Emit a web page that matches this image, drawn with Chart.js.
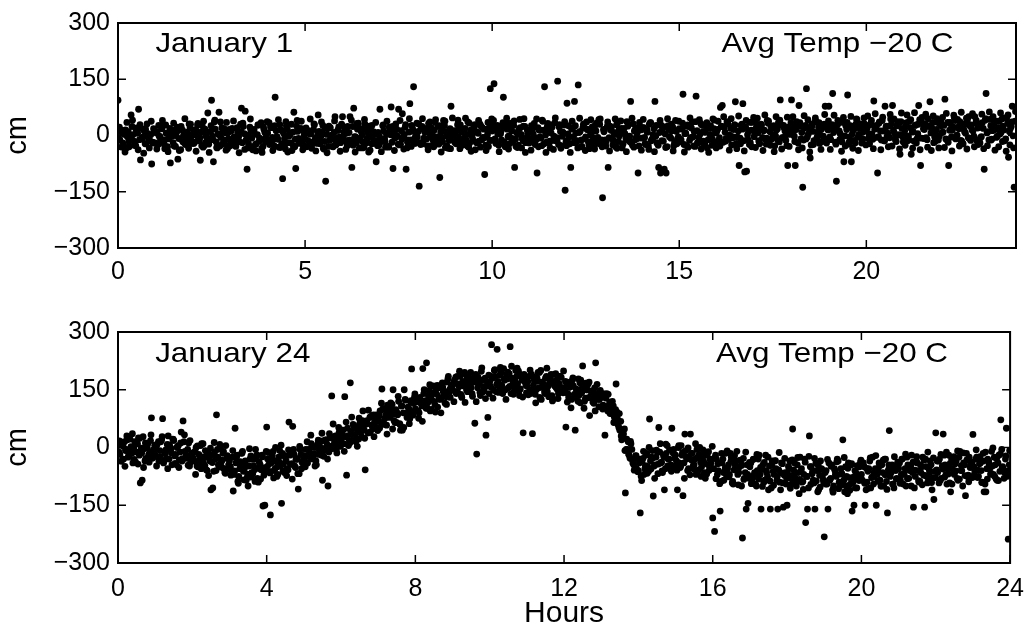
<!DOCTYPE html>
<html>
<head>
<meta charset="utf-8">
<script src="https://cdn.jsdelivr.net/npm/chart.js@4.4.1/dist/chart.umd.min.js"></script>
<style>
  html, body { margin: 0; padding: 0; background: #fff; }
  #wrap { position: relative; width: 1035px; height: 632px; }
  canvas { position: absolute; left: 0; }
  #top { top: 0; }
  #bottom { top: 300px; }
</style>
</head>
<body>
<div id="wrap">
  <canvas id="top" width="1035" height="300"></canvas>
  <canvas id="bottom" width="1035" height="332"></canvas>
</div>
<script>
'use strict';

/* sample times in hours, one reading every 3 minutes */
const sampleHours = [
  0,0.05,0.1,0.15,0.2,0.25,0.3,0.35,0.4,0.45,0.5,0.55,0.6,0.65,0.7,0.75,0.8,0.85,0.9,0.95,
  1,1.05,1.1,1.15,1.2,1.25,1.3,1.35,1.4,1.45,1.5,1.55,1.6,1.65,1.7,1.75,1.8,1.85,1.9,1.95,
  2,2.05,2.1,2.15,2.2,2.25,2.3,2.35,2.4,2.45,2.5,2.55,2.6,2.65,2.7,2.75,2.8,2.85,2.9,2.95,
  3,3.05,3.1,3.15,3.2,3.25,3.3,3.35,3.4,3.45,3.5,3.55,3.6,3.65,3.7,3.75,3.8,3.85,3.9,3.95,
  4,4.05,4.1,4.15,4.2,4.25,4.3,4.35,4.4,4.45,4.5,4.55,4.6,4.65,4.7,4.75,4.8,4.85,4.9,4.95,
  5,5.05,5.1,5.15,5.2,5.25,5.3,5.35,5.4,5.45,5.5,5.55,5.6,5.65,5.7,5.75,5.8,5.85,5.9,5.95,
  6,6.05,6.1,6.15,6.2,6.25,6.3,6.35,6.4,6.45,6.5,6.55,6.6,6.65,6.7,6.75,6.8,6.85,6.9,6.95,
  7,7.05,7.1,7.15,7.2,7.25,7.3,7.35,7.4,7.45,7.5,7.55,7.6,7.65,7.7,7.75,7.8,7.85,7.9,7.95,
  8,8.05,8.1,8.15,8.2,8.25,8.3,8.35,8.4,8.45,8.5,8.55,8.6,8.65,8.7,8.75,8.8,8.85,8.9,8.95,
  9,9.05,9.1,9.15,9.2,9.25,9.3,9.35,9.4,9.45,9.5,9.55,9.6,9.65,9.7,9.75,9.8,9.85,9.9,9.95,
  10,10.05,10.1,10.15,10.2,10.25,10.3,10.35,10.4,10.45,10.5,10.55,10.6,10.65,10.7,10.75,10.8,10.85,10.9,10.95,
  11,11.05,11.1,11.15,11.2,11.25,11.3,11.35,11.4,11.45,11.5,11.55,11.6,11.65,11.7,11.75,11.8,11.85,11.9,11.95,
  12,12.05,12.1,12.15,12.2,12.25,12.3,12.35,12.4,12.45,12.5,12.55,12.6,12.65,12.7,12.75,12.8,12.85,12.9,12.95,
  13,13.05,13.1,13.15,13.2,13.25,13.3,13.35,13.4,13.45,13.5,13.55,13.6,13.65,13.7,13.75,13.8,13.85,13.9,13.95,
  14,14.05,14.1,14.15,14.2,14.25,14.3,14.35,14.4,14.45,14.5,14.55,14.6,14.65,14.7,14.75,14.8,14.85,14.9,14.95,
  15,15.05,15.1,15.15,15.2,15.25,15.3,15.35,15.4,15.45,15.5,15.55,15.6,15.65,15.7,15.75,15.8,15.85,15.9,15.95,
  16,16.05,16.1,16.15,16.2,16.25,16.3,16.35,16.4,16.45,16.5,16.55,16.6,16.65,16.7,16.75,16.8,16.85,16.9,16.95,
  17,17.05,17.1,17.15,17.2,17.25,17.3,17.35,17.4,17.45,17.5,17.55,17.6,17.65,17.7,17.75,17.8,17.85,17.9,17.95,
  18,18.05,18.1,18.15,18.2,18.25,18.3,18.35,18.4,18.45,18.5,18.55,18.6,18.65,18.7,18.75,18.8,18.85,18.9,18.95,
  19,19.05,19.1,19.15,19.2,19.25,19.3,19.35,19.4,19.45,19.5,19.55,19.6,19.65,19.7,19.75,19.8,19.85,19.9,19.95,
  20,20.05,20.1,20.15,20.2,20.25,20.3,20.35,20.4,20.45,20.5,20.55,20.6,20.65,20.7,20.75,20.8,20.85,20.9,20.95,
  21,21.05,21.1,21.15,21.2,21.25,21.3,21.35,21.4,21.45,21.5,21.55,21.6,21.65,21.7,21.75,21.8,21.85,21.9,21.95,
  22,22.05,22.1,22.15,22.2,22.25,22.3,22.35,22.4,22.45,22.5,22.55,22.6,22.65,22.7,22.75,22.8,22.85,22.9,22.95,
  23,23.05,23.1,23.15,23.2,23.25,23.3,23.35,23.4,23.45,23.5,23.55,23.6,23.65,23.7,23.75,23.8,23.85,23.9,23.95
];

/* in-between readings, 1.5 minutes after each of the above */
const midHours = [
  0.025,0.075,0.125,0.175,0.225,0.275,0.325,0.375,0.425,0.475,0.525,0.575,0.625,0.675,0.725,0.775,0.825,0.875,0.925,0.975,
  1.025,1.075,1.125,1.175,1.225,1.275,1.325,1.375,1.425,1.475,1.525,1.575,1.625,1.675,1.725,1.775,1.825,1.875,1.925,1.975,
  2.025,2.075,2.125,2.175,2.225,2.275,2.325,2.375,2.425,2.475,2.525,2.575,2.625,2.675,2.725,2.775,2.825,2.875,2.925,2.975,
  3.025,3.075,3.125,3.175,3.225,3.275,3.325,3.375,3.425,3.475,3.525,3.575,3.625,3.675,3.725,3.775,3.825,3.875,3.925,3.975,
  4.025,4.075,4.125,4.175,4.225,4.275,4.325,4.375,4.425,4.475,4.525,4.575,4.625,4.675,4.725,4.775,4.825,4.875,4.925,4.975,
  5.025,5.075,5.125,5.175,5.225,5.275,5.325,5.375,5.425,5.475,5.525,5.575,5.625,5.675,5.725,5.775,5.825,5.875,5.925,5.975,
  6.025,6.075,6.125,6.175,6.225,6.275,6.325,6.375,6.425,6.475,6.525,6.575,6.625,6.675,6.725,6.775,6.825,6.875,6.925,6.975,
  7.025,7.075,7.125,7.175,7.225,7.275,7.325,7.375,7.425,7.475,7.525,7.575,7.625,7.675,7.725,7.775,7.825,7.875,7.925,7.975,
  8.025,8.075,8.125,8.175,8.225,8.275,8.325,8.375,8.425,8.475,8.525,8.575,8.625,8.675,8.725,8.775,8.825,8.875,8.925,8.975,
  9.025,9.075,9.125,9.175,9.225,9.275,9.325,9.375,9.425,9.475,9.525,9.575,9.625,9.675,9.725,9.775,9.825,9.875,9.925,9.975,
  10.025,10.075,10.125,10.175,10.225,10.275,10.325,10.375,10.425,10.475,10.525,10.575,10.625,10.675,10.725,10.775,10.825,10.875,10.925,10.975,
  11.025,11.075,11.125,11.175,11.225,11.275,11.325,11.375,11.425,11.475,11.525,11.575,11.625,11.675,11.725,11.775,11.825,11.875,11.925,11.975,
  12.025,12.075,12.125,12.175,12.225,12.275,12.325,12.375,12.425,12.475,12.525,12.575,12.625,12.675,12.725,12.775,12.825,12.875,12.925,12.975,
  13.025,13.075,13.125,13.175,13.225,13.275,13.325,13.375,13.425,13.475,13.525,13.575,13.625,13.675,13.725,13.775,13.825,13.875,13.925,13.975,
  14.025,14.075,14.125,14.175,14.225,14.275,14.325,14.375,14.425,14.475,14.525,14.575,14.625,14.675,14.725,14.775,14.825,14.875,14.925,14.975,
  15.025,15.075,15.125,15.175,15.225,15.275,15.325,15.375,15.425,15.475,15.525,15.575,15.625,15.675,15.725,15.775,15.825,15.875,15.925,15.975,
  16.025,16.075,16.125,16.175,16.225,16.275,16.325,16.375,16.425,16.475,16.525,16.575,16.625,16.675,16.725,16.775,16.825,16.875,16.925,16.975,
  17.025,17.075,17.125,17.175,17.225,17.275,17.325,17.375,17.425,17.475,17.525,17.575,17.625,17.675,17.725,17.775,17.825,17.875,17.925,17.975,
  18.025,18.075,18.125,18.175,18.225,18.275,18.325,18.375,18.425,18.475,18.525,18.575,18.625,18.675,18.725,18.775,18.825,18.875,18.925,18.975,
  19.025,19.075,19.125,19.175,19.225,19.275,19.325,19.375,19.425,19.475,19.525,19.575,19.625,19.675,19.725,19.775,19.825,19.875,19.925,19.975,
  20.025,20.075,20.125,20.175,20.225,20.275,20.325,20.375,20.425,20.475,20.525,20.575,20.625,20.675,20.725,20.775,20.825,20.875,20.925,20.975,
  21.025,21.075,21.125,21.175,21.225,21.275,21.325,21.375,21.425,21.475,21.525,21.575,21.625,21.675,21.725,21.775,21.825,21.875,21.925,21.975,
  22.025,22.075,22.125,22.175,22.225,22.275,22.325,22.375,22.425,22.475,22.525,22.575,22.625,22.675,22.725,22.775,22.825,22.875,22.925,22.975,
  23.025,23.075,23.125,23.175,23.225,23.275,23.325,23.375,23.425,23.475,23.525,23.575,23.625,23.675,23.725,23.775,23.825,23.875,23.925,23.975
];

/* third reading in each 3-minute slot */
const lateHours = [
  0.0375,0.0875,0.1375,0.1875,0.2375,0.2875,0.3375,0.3875,0.4375,0.4875,0.5375,0.5875,0.6375,0.6875,0.7375,0.7875,0.8375,0.8875,0.9375,0.9875,
  1.0375,1.0875,1.1375,1.1875,1.2375,1.2875,1.3375,1.3875,1.4375,1.4875,1.5375,1.5875,1.6375,1.6875,1.7375,1.7875,1.8375,1.8875,1.9375,1.9875,
  2.0375,2.0875,2.1375,2.1875,2.2375,2.2875,2.3375,2.3875,2.4375,2.4875,2.5375,2.5875,2.6375,2.6875,2.7375,2.7875,2.8375,2.8875,2.9375,2.9875,
  3.0375,3.0875,3.1375,3.1875,3.2375,3.2875,3.3375,3.3875,3.4375,3.4875,3.5375,3.5875,3.6375,3.6875,3.7375,3.7875,3.8375,3.8875,3.9375,3.9875,
  4.0375,4.0875,4.1375,4.1875,4.2375,4.2875,4.3375,4.3875,4.4375,4.4875,4.5375,4.5875,4.6375,4.6875,4.7375,4.7875,4.8375,4.8875,4.9375,4.9875,
  5.0375,5.0875,5.1375,5.1875,5.2375,5.2875,5.3375,5.3875,5.4375,5.4875,5.5375,5.5875,5.6375,5.6875,5.7375,5.7875,5.8375,5.8875,5.9375,5.9875,
  6.0375,6.0875,6.1375,6.1875,6.2375,6.2875,6.3375,6.3875,6.4375,6.4875,6.5375,6.5875,6.6375,6.6875,6.7375,6.7875,6.8375,6.8875,6.9375,6.9875,
  7.0375,7.0875,7.1375,7.1875,7.2375,7.2875,7.3375,7.3875,7.4375,7.4875,7.5375,7.5875,7.6375,7.6875,7.7375,7.7875,7.8375,7.8875,7.9375,7.9875,
  8.0375,8.0875,8.1375,8.1875,8.2375,8.2875,8.3375,8.3875,8.4375,8.4875,8.5375,8.5875,8.6375,8.6875,8.7375,8.7875,8.8375,8.8875,8.9375,8.9875,
  9.0375,9.0875,9.1375,9.1875,9.2375,9.2875,9.3375,9.3875,9.4375,9.4875,9.5375,9.5875,9.6375,9.6875,9.7375,9.7875,9.8375,9.8875,9.9375,9.9875,
  10.0375,10.0875,10.1375,10.1875,10.2375,10.2875,10.3375,10.3875,10.4375,10.4875,10.5375,10.5875,10.6375,10.6875,10.7375,10.7875,10.8375,10.8875,10.9375,10.9875,
  11.0375,11.0875,11.1375,11.1875,11.2375,11.2875,11.3375,11.3875,11.4375,11.4875,11.5375,11.5875,11.6375,11.6875,11.7375,11.7875,11.8375,11.8875,11.9375,11.9875,
  12.0375,12.0875,12.1375,12.1875,12.2375,12.2875,12.3375,12.3875,12.4375,12.4875,12.5375,12.5875,12.6375,12.6875,12.7375,12.7875,12.8375,12.8875,12.9375,12.9875,
  13.0375,13.0875,13.1375,13.1875,13.2375,13.2875,13.3375,13.3875,13.4375,13.4875,13.5375,13.5875,13.6375,13.6875,13.7375,13.7875,13.8375,13.8875,13.9375,13.9875,
  14.0375,14.0875,14.1375,14.1875,14.2375,14.2875,14.3375,14.3875,14.4375,14.4875,14.5375,14.5875,14.6375,14.6875,14.7375,14.7875,14.8375,14.8875,14.9375,14.9875,
  15.0375,15.0875,15.1375,15.1875,15.2375,15.2875,15.3375,15.3875,15.4375,15.4875,15.5375,15.5875,15.6375,15.6875,15.7375,15.7875,15.8375,15.8875,15.9375,15.9875,
  16.0375,16.0875,16.1375,16.1875,16.2375,16.2875,16.3375,16.3875,16.4375,16.4875,16.5375,16.5875,16.6375,16.6875,16.7375,16.7875,16.8375,16.8875,16.9375,16.9875,
  17.0375,17.0875,17.1375,17.1875,17.2375,17.2875,17.3375,17.3875,17.4375,17.4875,17.5375,17.5875,17.6375,17.6875,17.7375,17.7875,17.8375,17.8875,17.9375,17.9875,
  18.0375,18.0875,18.1375,18.1875,18.2375,18.2875,18.3375,18.3875,18.4375,18.4875,18.5375,18.5875,18.6375,18.6875,18.7375,18.7875,18.8375,18.8875,18.9375,18.9875,
  19.0375,19.0875,19.1375,19.1875,19.2375,19.2875,19.3375,19.3875,19.4375,19.4875,19.5375,19.5875,19.6375,19.6875,19.7375,19.7875,19.8375,19.8875,19.9375,19.9875,
  20.0375,20.0875,20.1375,20.1875,20.2375,20.2875,20.3375,20.3875,20.4375,20.4875,20.5375,20.5875,20.6375,20.6875,20.7375,20.7875,20.8375,20.8875,20.9375,20.9875,
  21.0375,21.0875,21.1375,21.1875,21.2375,21.2875,21.3375,21.3875,21.4375,21.4875,21.5375,21.5875,21.6375,21.6875,21.7375,21.7875,21.8375,21.8875,21.9375,21.9875,
  22.0375,22.0875,22.1375,22.1875,22.2375,22.2875,22.3375,22.3875,22.4375,22.4875,22.5375,22.5875,22.6375,22.6875,22.7375,22.7875,22.8375,22.8875,22.9375,22.9875,
  23.0375,23.0875,23.1375,23.1875,23.2375,23.2875,23.3375,23.3875,23.4375,23.4875,23.5375,23.5875,23.6375,23.6875,23.7375,23.7875,23.8375,23.8875,23.9375,23.9875
];

/* January 1 readings, cm */
const jan1Cm = [
  94,-12,8,-25,15,-3,-30,55,2,-18,20,70,-65,-6,12,-22,5,-14,-76,18,
  -20,10,-2,25,-15,-35,6,-9,-73,14,-28,3,-63,22,-11,0,-24,9,31,-16,
  4,-18,12,-7,-66,26,-27,-1,60,-14,94,-70,17,-33,62,-5,10,-21,35,-9,
  -13,19,-4,-29,8,-17,73,24,65,-90,-2,13,-38,5,-22,28,-10,-45,16,-6,
  7,-24,21,-11,102,-3,-31,15,-115,-8,26,-19,3,-40,62,-88,11,-15,38,-26,
  -9,14,-28,4,-17,29,-5,55,-22,9,-36,-122,18,-13,1,-30,50,-7,23,-19,
  50,-14,6,-25,50,-85,73,-4,17,-33,11,-18,30,-8,-44,20,-2,-21,-70,8,
  70,-16,12,-31,5,22,76,-88,-7,16,70,-23,58,3,-90,-12,85,27,130,-20,
  -4,-135,18,-22,9,-9,32,-28,2,14,-17,24,-112,-6,40,-32,11,-13,78,5,
  -18,13,-3,28,-26,7,-11,36,-20,1,19,-38,9,-15,25,-5,-104,16,-29,125,
  12,138,-21,4,24,-12,102,-30,17,-1,33,-16,-85,8,-26,21,-8,45,-19,6,
  -10,26,3,-24,-100,15,-7,38,130,-18,10,-33,22,-2,-14,145,29,-27,7,-146,
  86,-6,-85,20,91,-17,135,11,-29,31,-4,16,-35,6,-20,27,-11,42,-23,-166,
  14,-15,-85,25,-8,8,-30,34,-1,19,-22,4,37,-13,91,-26,12,-5,-100,23,
  -7,21,-24,9,30,-14,2,91,-19,-85,-100,17,-90,-100,26,-3,13,-28,40,-9,
  18,-12,110,5,-27,24,-6,36,11,105,-20,3,28,-15,9,-33,20,-2,44,-18,
  10,-14,75,80,22,-8,31,1,-25,16,90,-4,-80,27,85,-97,-95,12,-19,35,
  -3,19,7,-22,28,13,-10,40,-16,24,2,-28,15,34,95,-6,21,-13,-80,9,
  95,12,-80,30,80,-9,-138,20,125,4,-60,26,-14,39,8,-21,17,-2,78,23,
  78,-11,112,18,-122,33,5,-17,-70,26,108,-4,-70,14,-20,42,3,22,-12,31,
  15,-8,29,4,92,21,-100,36,-12,12,78,-3,25,44,80,7,-16,30,-50,19,
  2,24,-14,38,-50,11,27,-9,80,-80,33,16,-6,45,90,20,-19,8,35,-2,
  26,9,97,-11,-80,31,14,48,-4,22,37,-15,18,6,40,-8,28,12,50,-13,
  21,-6,34,-90,112,10,43,-10,27,16,-2,38,8,25,-14,47,-58,19,78,-138
];

const jan1CmMid = [
  -8,15,-20,3,-33,10,-2,24,-15,-27,6,-11,19,-4,-22,31,-9,2,-18,11,
  7,-24,-3,18,-12,28,-30,-6,12,-19,0,22,-8,-38,14,-15,5,-26,20,-1,
  -21,2,28,-14,9,-31,17,-6,-23,11,-2,36,-17,4,-28,21,-12,7,-35,16,
  12,-9,-26,19,-3,30,-19,5,-12,-33,22,-7,14,-24,2,-15,34,-29,8,-11,
  -16,23,-5,-28,13,-10,29,-22,6,-36,17,-1,-20,9,-30,25,-8,15,-13,1,
  20,-13,5,-34,16,-7,-21,11,-2,27,-16,3,-29,21,-10,8,-25,14,-4,30,
  -6,19,-27,8,-15,24,-3,-19,33,-11,2,-31,16,-8,25,-22,10,-14,4,-26,
  -14,26,-9,3,-29,15,-18,7,31,-2,-25,13,-6,22,-33,9,-12,18,-21,1,
  11,-19,24,-7,15,-28,6,20,-13,35,-4,-23,9,-16,27,-1,-34,18,-9,13,
  -2,29,-15,10,-24,19,3,-31,14,-8,23,-18,6,30,-11,17,-26,2,21,-13,
  26,-9,13,-26,5,20,-17,31,-3,-21,12,27,-10,-32,18,3,-14,24,-6,10,
  -17,8,32,-11,21,-4,-27,14,1,25,-20,7,-13,34,-6,-24,11,-2,28,-15,
  4,-22,17,-3,26,-14,8,-30,20,-9,36,-18,2,23,-27,12,-5,30,-12,16,
  -12,24,-6,14,-25,3,29,-16,10,-33,19,-8,25,-2,-20,31,-11,6,-28,15,
  21,-5,12,-28,34,-10,18,-1,-22,8,27,-15,4,-30,16,-7,23,-18,11,-4,
  -9,17,-24,6,28,-13,20,-3,-29,13,-6,32,-19,9,24,-11,3,-26,18,7,
  16,-6,25,-18,9,37,-10,19,-3,28,-21,12,-7,30,-14,22,2,-24,14,38,
  5,30,-14,21,-5,14,-23,33,10,-9,26,-1,18,-17,29,-6,12,-27,23,3,
  25,-2,16,-20,34,8,-12,27,-4,19,-25,11,36,-8,22,1,-16,30,-10,15,
  -4,21,8,-18,28,12,-9,35,-1,16,-23,26,4,-13,31,-5,19,-20,10,27,
  20,4,33,-10,17,27,-3,12,40,-14,23,6,-6,31,14,-11,26,2,37,-4,
  12,34,-2,21,9,-15,28,5,42,-7,18,30,-11,24,7,35,-3,16,-12,29,
  8,27,-9,35,14,-4,22,40,1,18,-13,31,10,46,-6,25,15,-2,33,20,
  30,-3,19,41,7,-12,26,13,36,-5,21,4,44,15,-9,32,10,24,-1,38
];

const jan1CmLate = [
  22,-31,8,-44,35,-15,-3,41,-26,14,-38,29,-9,-47,17,4,-33,38,-20,11,
  -36,27,-12,40,-24,6,-43,19,-2,33,-29,12,-40,24,-17,45,-8,-34,30,-21,
  15,-42,32,-6,-27,38,-19,9,-45,26,-11,41,-32,3,36,-23,18,-39,7,-28,
  -25,39,-14,21,-46,10,33,-37,1,-22,44,-30,16,-41,28,-7,-35,23,-16,37,
  34,-18,-40,26,-5,42,-32,13,-24,37,-44,5,30,-28,-10,40,-21,19,-38,8,
  -30,12,44,-23,31,-41,7,-15,36,-34,20,-46,25,-4,-29,39,-17,14,-42,27,
  9,-37,24,-12,41,-26,-44,32,-8,18,-33,43,-20,6,-39,27,-14,35,-27,-2,
  -43,28,-16,38,-31,2,24,-40,17,-23,40,-10,-36,29,-18,45,-29,11,-6,33,
  31,-24,45,-11,19,-38,36,-4,-30,42,-17,26,-44,12,38,-27,4,-35,47,-14,
  -22,41,-35,16,-9,46,-28,33,-42,7,29,-19,40,-31,21,-6,-40,35,-13,44,
  40,-14,27,-43,12,34,-25,46,-36,18,-8,39,-29,3,43,-33,25,-45,15,-20,
  -39,20,-6,44,-30,14,41,-22,-45,32,-15,28,-37,47,-11,23,-34,9,37,-27,
  26,-45,38,-19,7,-33,46,-12,29,-40,16,-25,42,-6,-36,33,-21,44,-30,10,
  -28,36,-41,22,-13,44,-34,15,39,-24,5,-43,31,-17,46,-31,20,-8,35,-39,
  43,-21,16,-37,34,-9,-43,27,-26,40,-14,23,-32,45,-3,30,-41,13,-22,38,
  -16,33,-44,25,-31,47,-5,-28,37,-19,42,-36,11,-24,34,-45,26,-10,41,-33,
  38,-28,24,50,-15,33,-39,45,-6,28,-35,52,-22,17,-41,40,-11,35,-30,48,
  -32,46,-18,30,-40,55,-7,38,-26,20,-43,50,-13,41,-36,27,-2,49,-29,35,
  50,-16,37,-38,25,-33,53,-9,42,-44,30,-24,47,-4,34,-37,22,56,-20,39,
  -37,29,54,-23,40,-11,-42,48,-28,35,-18,51,-34,19,44,-40,31,-8,47,-25,
  52,-22,40,-35,58,-5,33,-38,49,-14,25,-30,56,-28,44,-2,37,-36,60,-17,
  -26,55,-12,42,-34,61,-20,30,-38,48,-8,57,-31,26,-40,52,-16,45,-33,38,
  48,-32,59,-18,35,-41,54,-9,43,-28,62,-22,31,-36,50,-13,58,-30,40,-24,
  -20,57,-35,45,-27,63,-12,50,-39,38,-30,60,-16,47,-42,55,-25,36,-33,64
];

/* January 24 readings, cm */
const jan24Cm = [
  5,-18,12,-30,-8,20,-22,2,-40,15,-12,25,-92,-85,-3,-28,10,-15,77,-6,
  -20,8,-35,15,75,-12,-28,30,-5,-45,18,-18,2,-32,40,69,-10,-25,12,-38,
  -15,-35,0,-50,-22,10,-40,-8,-60,-28,-110,-105,-12,85,-45,-2,-33,-55,5,-25,
  -35,-60,-113,50,-20,-75,-42,-10,-55,-85,-100,-30,-65,-48,-5,-80,-38,-58,-152,-150,
  53,-45,-175,-20,-60,-35,-70,-8,-145,-42,-25,-55,66,-15,55,-48,-28,-108,-5,-38,
  -30,-5,-40,-12,10,-25,-48,0,-18,15,-85,-8,20,-100,25,134,-2,30,8,40,
  20,45,132,-72,5,168,35,55,15,40,62,28,50,-58,70,38,80,48,65,85,
  70,95,152,60,85,110,78,100,150,65,92,120,45,45,150,88,105,75,204,115,
  100,125,90,115,205,110,220,135,95,140,120,150,105,160,130,145,115,170,140,155,
  150,175,140,165,185,130,160,190,145,170,155,180,63,-17,165,135,175,150,32,78,
  170,267,150,185,255,160,195,140,175,190,155,262,180,145,200,165,135,185,38,170,
  160,185,140,36,175,150,195,130,170,155,180,145,165,190,125,160,175,140,185,155,
  155,53,140,170,125,160,45,145,135,175,212,120,150,165,130,145,115,220,140,125,
  130,110,32,140,105,95,120,80,165,60,45,20,35,-118,-5,-20,10,-40,-30,-55,
  -60,-170,-35,-70,-20,-50,74,-25,-126,-45,-10,52,-40,-65,-110,-15,-30,-55,50,-5,
  -20,-110,-40,5,-125,35,-30,-55,35,-15,-45,-70,-25,0,-50,-35,-80,-20,-60,-40,
  -183,-218,-30,-60,-165,-40,-85,-15,-55,-70,-25,-95,-45,-10,-65,-35,-235,-80,-160,-145,
  -50,-75,-30,-95,-60,-20,-160,-45,-85,-65,-110,-160,-35,-70,-55,-160,-90,-40,-155,-65,
  -150,-55,-80,48,-40,-100,-65,-25,-90,-70,-195,-160,30,-50,-85,-160,-60,-110,-35,-75,
  -232,-60,-160,-85,-45,-100,-70,-30,-90,-55,20,-115,-75,-40,-95,-165,-150,-65,-80,-50,
  -70,-40,-150,-90,-55,-105,-25,-75,-150,-60,-85,-45,-100,-30,-170,44,-65,-95,-50,-80,
  -55,-85,-30,-70,-100,-45,-60,-20,-155,-75,-40,-90,-65,-25,-155,-50,-80,-35,-110,-135,
  38,-65,-30,-80,35,-45,-95,-20,-115,-55,-70,-35,-85,-10,-60,-40,-125,-75,-25,-50,
  34,-60,-25,-75,-40,-90,-115,-115,-30,-55,-10,-70,-45,-85,-20,72,-50,-65,50,-238
];

const jan24CmMid = [
  -12,8,-30,15,-5,-25,22,-15,0,-38,10,-20,-2,28,-35,5,-18,18,-28,-8,
  3,-25,-8,20,-40,-15,8,-30,-2,22,-22,-45,5,-12,-35,15,-28,-5,-48,-18,
  -28,-10,-48,-18,5,-40,-25,-58,-12,-35,-20,-62,-30,-5,-50,-38,-15,-65,-28,-45,
  -50,-25,-70,-40,-88,-55,-15,-62,-35,-78,-48,-22,-68,-58,-30,-90,-45,-20,-72,-52,
  -30,-62,-40,-10,-55,-75,-25,-48,-15,-65,-35,-58,-20,-42,-5,-52,-30,-68,-18,-40,
  -22,-40,-5,-28,2,-15,-35,10,-8,-20,18,-2,8,-12,28,5,15,-5,32,22,
  35,10,28,50,18,42,60,30,48,22,55,70,45,62,38,78,58,85,68,52,
  82,65,100,75,58,95,80,112,70,98,85,62,108,90,125,78,100,118,92,130,
  118,95,130,108,140,122,102,148,128,160,112,138,155,125,168,142,132,178,150,162,
  165,145,185,158,138,172,195,150,182,162,140,175,190,155,168,198,145,180,160,188,
  158,180,200,145,172,188,162,205,150,178,192,140,170,158,185,198,152,175,190,162,
  172,150,190,162,138,180,155,200,168,145,185,160,178,135,170,192,150,165,182,142,
  145,165,130,158,175,138,152,120,168,142,160,128,150,170,135,118,155,140,125,148,
  140,105,128,95,118,88,108,70,92,52,68,30,48,-5,15,-28,-5,-45,-22,-62,
  -40,-75,-28,-55,-15,-62,-35,-8,-48,-25,-68,-12,-38,-20,-55,5,-30,-45,-10,-28,
  -35,0,-52,-20,-40,-8,-60,-28,-15,-48,-30,-5,-58,-38,-22,-65,-12,-45,-30,-55,
  -55,-20,-70,-40,-88,-30,-60,-75,-45,-15,-92,-58,-35,-70,-50,-100,-28,-65,-45,-80,
  -40,-80,-65,-100,-30,-70,-55,-90,-20,-75,-48,-105,-62,-35,-85,-58,-110,-42,-72,-95,
  -70,-35,-95,-58,-80,-45,-120,-62,-88,-30,-75,-105,-50,-68,-92,-40,-115,-72,-55,-85,
  -65,-95,-40,-80,-110,-55,-75,-35,-100,-68,-85,-50,-120,-78,-45,-90,-60,-105,-72,-38,
  -85,-50,-110,-62,-35,-78,-95,-55,-70,-40,-100,-65,-30,-88,-58,-75,-45,-105,-60,-38,
  -40,-70,-95,-55,-25,-80,-48,-65,-105,-35,-60,-88,-50,-72,-30,-92,-58,-45,-78,-62,
  -58,-35,-85,-48,-20,-70,-55,-92,-30,-65,-42,-80,-25,-60,-100,-45,-15,-72,-52,-38,
  -50,-30,-78,-42,-60,-15,-95,-55,-35,-70,-48,-25,-82,-40,-62,-5,-58,-30,-75,-45
];

const jan24CmLate = [
  17,-36,3,-49,30,-20,-8,36,-31,9,-43,24,-14,-52,12,-1,-38,33,-25,6,
  -48,15,-24,28,-36,-6,-55,7,-14,21,-41,0,-52,12,-29,33,-20,-46,18,-33,
  -13,-70,4,-34,-55,10,-47,-19,-73,-2,-39,13,-60,-25,8,-51,-10,-67,-21,-56,
  -72,-8,-61,-26,-93,-37,-14,-84,-46,-69,-3,-77,-31,-88,-19,-54,-82,-24,-63,-10,
  -13,-66,-27,-79,0,-50,-38,6,-61,-21,-73,-6,-44,-82,-18,-31,-68,3,-55,-24,
  -50,15,-22,32,-30,2,-45,19,0,37,-23,20,-30,36,-3,61,10,-14,52,3,
  45,-10,66,31,12,79,24,54,3,76,41,95,24,61,97,40,83,28,77,44,
  50,115,64,100,35,92,116,48,87,65,133,60,108,52,123,89,62,122,84,139,
  127,76,118,68,150,102,117,163,99,141,92,161,126,90,157,146,112,185,130,163,
  119,183,144,198,134,165,117,181,161,195,133,170,119,183,143,207,158,127,170,140,
  185,128,202,164,143,208,151,179,125,196,159,211,138,173,206,147,188,131,177,142,
  137,201,148,183,116,172,195,125,163,140,206,132,178,121,190,155,127,185,146,199,
  172,118,156,103,181,130,141,178,116,155,102,167,129,83,147,131,95,164,106,137,
  100,139,107,138,88,104,65,98,74,88,30,43,-8,22,-17,16,-31,-59,-21,-63,
  -30,-86,-10,-47,-67,0,-56,-27,-80,-7,-43,10,-61,-25,9,-48,-6,-62,-15,-48,
  -59,5,-48,-13,-80,-24,-1,-71,-33,-56,10,-64,-18,-75,-6,-41,-69,-11,-50,3,
  -28,-81,-42,-94,-15,-65,-53,-9,-76,-36,-88,-21,-59,-97,-33,-46,-83,-12,-70,-39,
  -94,-31,-70,-18,-82,-52,-101,-39,-60,-25,-87,-46,-98,-34,-75,-13,-66,-92,-28,-79,
  -49,-106,-32,-70,-91,-26,-83,-55,-109,-38,-75,-23,-96,-61,-28,-87,-46,-103,-57,-92,
  -95,-31,-84,-49,-116,-60,-37,-107,-69,-92,-26,-100,-54,-111,-42,-77,-105,-47,-86,-33,
  -40,-93,-54,-106,-27,-77,-65,-21,-88,-48,-100,-33,-71,-109,-45,-58,-95,-24,-82,-51,
  -93,-30,-69,-17,-81,-51,-100,-38,-59,-24,-86,-45,-97,-33,-74,-12,-65,-91,-27,-78,
  -35,-92,-18,-56,-77,-12,-69,-41,-95,-24,-61,-9,-82,-47,-14,-73,-32,-89,-43,-78,
  -70,-6,-59,-24,-91,-35,-12,-82,-44,-67,-1,-75,-29,-86,-17,-52,-80,-22,-61,-8
];

const cmTicks         = [-300, -150, 0, 150, 300];
const topHourTicks    = [0, 5, 10, 15, 20];
const bottomHourTicks = [0, 4, 8, 12, 16, 20, 24];

const FONT = '"Liberation Sans", Arial, Helvetica, sans-serif';

// box around the plot plus the small inward ticks on all four sides
const frameAndTicks = {
  id: 'frameAndTicks',
  afterDatasetsDraw(chart) {
    const { ctx, chartArea: a, scales: { x, y } } = chart;
    ctx.save();
    ctx.strokeStyle = '#000';
    ctx.lineWidth = 1.5;
    ctx.beginPath();
    x.ticks.forEach(t => {
      const px = x.getPixelForValue(t.value);
      ctx.moveTo(px, a.bottom); ctx.lineTo(px, a.bottom - 8);
      ctx.moveTo(px, a.top);    ctx.lineTo(px, a.top + 8);
    });
    y.ticks.forEach(t => {
      const py = y.getPixelForValue(t.value);
      ctx.moveTo(a.left, py);  ctx.lineTo(a.left + 8, py);
      ctx.moveTo(a.right, py); ctx.lineTo(a.right - 8, py);
    });
    ctx.stroke();
    ctx.lineWidth = 2;
    ctx.strokeRect(a.left, a.top, a.right - a.left, a.bottom - a.top);
    ctx.restore();
  }
};

// "January n" and "Avg Temp" labels, slightly widened like the scanned lettering
const panelNotes = {
  id: 'panelNotes',
  afterDraw(chart, args, opts) {
    const { ctx, scales: { x, y } } = chart;
    const stretch = 1.12;
    ctx.save();
    ctx.fillStyle = '#000';
    ctx.font = '28px ' + FONT;
    ctx.textBaseline = 'alphabetic';
    const put = (text, hour, cm, align) => {
      let px = x.getPixelForValue(hour);
      if (align === 'right') px -= ctx.measureText(text).width * stretch;
      ctx.save();
      ctx.translate(px, y.getPixelForValue(cm));
      ctx.scale(stretch, 1);
      ctx.fillText(text, 0, 0);
      ctx.restore();
    };
    put(opts.left, 1.0, 223, 'left');
    put(opts.right, 22.33, 223, 'right');
    ctx.restore();
  }
};

function toPoints(hours, values) {
  return hours.map((h, i) => ({ x: h, y: values[i] }));
}

function makePanel(canvasId, series, hourTicks, cfg) {
  const points = toPoints(sampleHours, series[0])
    .concat(toPoints(midHours, series[1]))
    .concat(toPoints(lateHours, series[2]));
  return new Chart(document.getElementById(canvasId), {
    type: 'scatter',
    data: {
      datasets: [{
        data: points,
        pointRadius: 3.4,
        pointHoverRadius: 3.4,
        backgroundColor: '#000',
        borderWidth: 0
      }]
    },
    options: {
      responsive: false,
      animation: false,
      devicePixelRatio: 1,
      events: [],
      layout: { padding: { top: cfg.top, right: 19, left: 0, bottom: 0 } },
      plugins: {
        legend: { display: false },
        tooltip: { enabled: false },
        panelNotes: { left: cfg.day, right: 'Avg Temp \u221220 C' }
      },
      scales: {
        x: {
          type: 'linear',
          min: 0,
          max: 24,
          afterBuildTicks: s => { s.ticks = hourTicks.map(v => ({ value: v })); },
          afterFit: s => { s.height = cfg.xHeight; },
          grid: { display: false, drawTicks: false },
          border: { display: false },
          ticks: {
            autoSkip: false,
            maxRotation: 0,
            padding: cfg.xPad,
            color: '#000',
            font: { family: FONT, size: 25 }
          },
          title: {
            display: !!cfg.xTitle,
            text: cfg.xTitle || '',
            color: '#000',
            font: { family: FONT, size: 30 },
            padding: { top: 1, bottom: 0 }
          }
        },
        y: {
          min: -300,
          max: 300,
          afterBuildTicks: s => { s.ticks = cmTicks.map(v => ({ value: v })); },
          afterFit: s => { s.width = 118; },
          grid: { display: false, drawTicks: false },
          border: { display: false },
          ticks: {
            padding: 8,
            color: '#000',
            font: { family: FONT, size: 25 },
            callback: v => String(v).replace('-', '\u2212')
          },
          title: {
            display: true,
            text: 'cm',
            color: '#000',
            font: { family: FONT, size: 29 },
            padding: { top: 1, bottom: 0 }
          }
        }
      }
    },
    plugins: [frameAndTicks, panelNotes]
  });
}

makePanel('top', [jan1Cm, jan1CmMid, jan1CmLate], topHourTicks,
  { day: 'January 1', top: 15, xHeight: 52, xPad: 9 });
makePanel('bottom', [jan24Cm, jan24CmMid, jan24CmLate], bottomHourTicks,
  { day: 'January 24', top: 32, xHeight: 69, xPad: 11, xTitle: 'Hours' });
</script>
</body>
</html>
